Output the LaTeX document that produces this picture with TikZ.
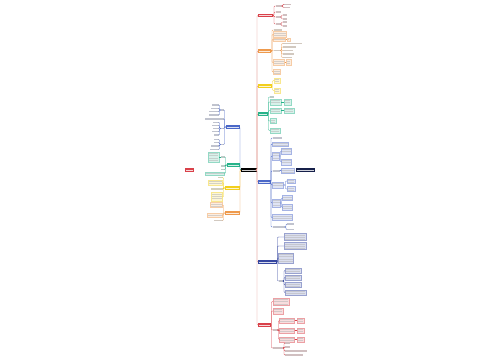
\documentclass[tikz,border=0pt]{standalone}
\definecolor{cRed}{HTML}{D9414A}
\definecolor{cOrange}{HTML}{EE9A4D}
\definecolor{cYellow}{HTML}{F2CF1D}
\definecolor{cGreen}{HTML}{27B38A}
\definecolor{cBlue}{HTML}{4B68C8}
\definecolor{cDark}{HTML}{3445A0}
\definecolor{cNavy}{HTML}{16204A}
\definecolor{cTrunk}{HTML}{E38E82}
\tikzset{
  conn/.style={draw=#1, line width=0.4pt, rounded corners=0.8pt},
  topic/.style={fill=#1, inner sep=0pt, outer sep=0pt, minimum height=3.4pt,
    path picture={\fill[white!80!#1] ([xshift=1pt,yshift=-1.2pt]path picture bounding box.north west) rectangle ([xshift=-1pt,yshift=1.2pt]path picture bounding box.south east);}},
  txtitem/.style={inner sep=0pt, outer sep=0pt, minimum height=1.5pt, fill=#1!25!gray!45},
  boxitem/.style={inner sep=0pt, outer sep=0pt, draw=#1!50, fill=#1!18, line width=0.25pt,
    path picture={\foreach \k in {1,...,6}{\fill[#1!20!gray!40] ([xshift=0.8pt,yshift={-\k*2.4pt+0.5pt}]path picture bounding box.north west) rectangle ([xshift=-0.8pt,yshift={-\k*2.4pt+1.4pt}]path picture bounding box.north east);}}},
}
\newcommand\mkT[6]{\node[txtitem=#6,anchor=#2,minimum width=#5pt] (#1) at (#3,#4) {};}
\newcommand\mkB[7]{\node[boxitem=#7,anchor=#2,minimum width=#5pt,minimum height=#6pt] (#1) at (#3,#4) {};}
\newcommand\joinR[4]{\foreach \ch in {#3}{\draw[conn=#1] (#2.east) -| ([xshift=-#4pt]\ch.west) -- (\ch.west);}}
\newcommand\joinL[4]{\foreach \ch in {#3}{\draw[conn=#1] (#2.west) -| ([xshift=#4pt]\ch.east) -- (\ch.east);}}
\newcommand\sib[3]{\draw[conn=#1] (#2.east) -- (#3.west);}
\begin{document}
\begin{tikzpicture}[x=1pt,y=-1pt]
\useasboundingbox[fill=white] (0,0) rectangle (500,360);
% central and floating nodes
\node[topic=black, minimum width=16pt] (c) at (248.5,170) {};
\node[topic=cRed, minimum width=9pt] (fl) at (189.5,170) {};
\node[topic=cNavy, minimum width=19pt] (fr) at (305.5,170) {};
% right topics
\node[topic=cRed, anchor=west, minimum width=15pt] (r1) at (257.5,15.5) {};
\node[topic=cOrange, anchor=west, minimum width=13pt] (r2) at (257.5,51) {};
\node[topic=cYellow, anchor=west, minimum width=14pt] (r3) at (257.5,86) {};
\node[topic=cGreen, anchor=west, minimum width=10pt] (r4) at (257.5,114) {};
\node[topic=cBlue, anchor=west, minimum width=13pt] (r5) at (257.5,182) {};
\node[topic=cDark, anchor=west, minimum width=19pt] (r6) at (257.5,262) {};
\node[topic=cRed, anchor=west, minimum width=13pt] (r7) at (257.5,325) {};
% left topics
\node[topic=cBlue, anchor=east, minimum width=14pt] (l1) at (239.5,127) {};
\node[topic=cGreen, anchor=east, minimum width=13pt] (l2) at (239.5,165) {};
\node[topic=cYellow, anchor=east, minimum width=15pt] (l3) at (239.5,188) {};
\node[topic=cOrange, anchor=east, minimum width=15pt] (l4) at (239.5,213) {};
% main connectors
\joinL{cBlue}{c}{l1}{0.5}
\joinL{cGreen}{c}{l2}{0.5}
\joinL{cYellow}{c}{l3}{0.5}
\joinL{cOrange}{c}{l4}{0.5}
\joinR{cTrunk}{c}{r2,r3,r4,r5,r6,r1,r7}{0.5}

% ---- r1 red
\mkT{a1}{west}{275.5}{6}{6}{cRed}
\mkT{a2}{west}{275.5}{12}{5}{cRed}
\mkT{a3}{west}{275.5}{17}{5}{cRed}
\mkT{a4}{west}{275.5}{24}{5}{cRed}
\joinR{cRed}{r1}{a1,a2,a3,a4}{1.5}
\mkT{a11}{west}{284}{4.3}{7}{cRed}
\mkT{a12}{west}{284}{7.5}{6}{cRed}
\joinR{cRed}{a1}{a11,a12}{1.2}
\mkT{a31}{west}{282.5}{15}{4}{cRed}
\mkT{a32}{west}{282.5}{19}{4}{cRed}
\joinR{cRed}{a3}{a31,a32}{1}
\mkT{a41}{west}{282.5}{22}{4}{cRed}
\mkT{a42}{west}{282.5}{26}{4}{cRed}
\joinR{cRed}{a4}{a41,a42}{1}

% ---- r2 orange
\mkT{b1}{west}{273.5}{30}{8}{cOrange}
\mkB{b2}{west}{273.5}{34.5}{13}{6}{cOrange}
\mkB{b3}{west}{273.5}{39.5}{12}{3.5}{cOrange}
\mkB{b3x}{west}{287}{39.5}{3}{3.5}{cOrange}
\mkT{b4}{west}{273.5}{50.5}{7}{cOrange}
\mkB{b5}{west}{273.5}{62.5}{11}{6}{cOrange}
\mkB{b5x}{west}{286}{62.5}{5}{6}{cOrange}
\mkB{b6}{west}{273.5}{72}{7}{5}{cOrange}
\joinR{cOrange}{r2}{b1,b2,b3,b4,b5,b6}{1.5}
\sib{cOrange}{b3}{b3x}
\sib{cOrange}{b5}{b5x}
\mkT{b41}{west}{283}{43.5}{19}{cOrange}
\mkT{b42}{west}{283}{47}{13}{cOrange}
\mkT{b43}{west}{283}{50.5}{10}{cOrange}
\mkT{b44}{west}{283}{54}{11}{cOrange}
\mkT{b45}{west}{283}{57.5}{9}{cOrange}
\joinR{cOrange}{b4}{b41,b42,b43,b44,b45}{1.5}

% ---- r3 yellow
\mkB{c1}{west}{274}{80.5}{6}{5}{cYellow}
\mkB{c2}{west}{274}{90.5}{6}{5}{cYellow}
\joinR{cYellow}{r3}{c1,c2}{1.5}

% ---- r4 green
\mkT{d1}{west}{270}{97}{4}{cGreen}
\mkB{d2}{west}{270}{102}{11}{6}{cGreen}
\mkB{d2x}{west}{284}{102}{7}{6}{cGreen}
\mkB{d3}{west}{270}{110.5}{11}{5}{cGreen}
\mkB{d3x}{west}{284}{110.5}{10}{5}{cGreen}
\mkB{d4}{west}{270}{121}{6}{5}{cGreen}
\mkB{d5}{west}{270}{130.5}{10}{5}{cGreen}
\joinR{cGreen}{r4}{d1,d2,d3,d4,d5}{1.5}
\sib{cGreen}{d2}{d2x}
\sib{cGreen}{d3}{d3x}

% ---- r5 blue
\mkT{e1}{west}{272.5}{138}{9}{cBlue}
\mkB{e2}{west}{272.5}{144}{16}{4}{cBlue}
\mkB{e3}{west}{272.5}{156}{7}{8}{cBlue}
\mkT{e4}{west}{272.5}{171}{7}{cBlue}
\mkB{e5}{west}{272.5}{185}{11}{6}{cBlue}
\mkB{e6}{west}{272.5}{203}{8}{8}{cBlue}
\mkB{e7}{west}{272.5}{217.5}{20}{6}{cBlue}
\mkT{e8}{west}{272.5}{227}{12}{cBlue}
\joinR{cBlue}{r5}{e1,e2,e3,e4,e5,e6,e7,e8}{1.5}
\mkB{e31}{west}{281.5}{151}{10}{6}{cBlue}
\mkB{e32}{west}{281.5}{162}{10}{6}{cBlue}
\joinR{cBlue}{e3}{e31,e32}{1}
\mkB{e41}{west}{281.5}{171}{13}{5}{cBlue}
\joinR{cBlue}{e4}{e41}{1}
\mkB{e51}{west}{287}{181}{8}{4}{cBlue}
\mkB{e52}{west}{287}{189}{8}{5}{cBlue}
\joinR{cBlue}{e5}{e51,e52}{1.5}
\mkB{e61}{west}{282.5}{198}{10}{5}{cBlue}
\mkB{e62}{west}{282.5}{207.5}{10}{6}{cBlue}
\joinR{cBlue}{e6}{e61,e62}{1}
\mkT{e81}{west}{287}{224}{7}{cBlue}
\mkT{e82}{west}{287}{229.5}{7}{cBlue}
\joinR{cBlue}{e8}{e81,e82}{1}

% ---- r6 dark blue
\mkB{f1}{west}{284}{237}{22}{7}{cDark}
\mkB{f2}{west}{284}{246}{22}{7}{cDark}
\mkB{f3}{west}{278.5}{258}{15}{10}{cDark}
\mkT{f4}{west}{278.5}{281}{5}{cDark}
\joinR{cDark}{r6}{f1,f2}{6.5}
\joinR{cDark}{r6}{f3,f4}{1}
\mkB{f41}{west}{285}{270.5}{16}{5}{cDark}
\mkB{f42}{west}{285}{277.5}{16}{5}{cDark}
\mkB{f43}{west}{285}{285}{16}{5}{cDark}
\mkB{f44}{west}{285}{292.5}{21}{5}{cDark}
\joinR{cDark}{f4}{f41,f42,f43,f44}{1}

% ---- r7 red
\mkB{g1}{west}{273}{301.5}{16}{7}{cRed}
\mkB{g2}{west}{273}{311}{10}{6}{cRed}
\mkT{g3}{west}{273}{330}{5}{cRed}
\mkT{g4}{west}{273}{348}{10}{cRed}
\joinR{cRed}{r7}{g1,g2,g3,g4}{1.5}
\mkB{g31}{west}{279.5}{320.5}{15}{5}{cRed}
\mkB{g32}{west}{279.5}{330.5}{15}{5}{cRed}
\mkB{g33}{west}{279.5}{339.5}{15}{5}{cRed}
\joinR{cRed}{g3}{g31,g32,g33}{1}
\mkB{g31x}{west}{297}{320.5}{7}{5}{cRed}
\mkB{g32x}{west}{297}{330.5}{7}{5}{cRed}
\mkB{g33x}{west}{297}{339.5}{7}{5}{cRed}
\sib{cRed}{g31}{g31x}
\sib{cRed}{g32}{g32x}
\sib{cRed}{g33}{g33x}
\mkT{g41}{west}{285}{343}{5}{cRed}
\mkT{g42}{west}{285}{347}{5}{cRed}
\mkT{g43}{west}{285}{351}{22}{cRed}
\mkT{g44}{west}{285}{355}{18}{cRed}
\joinR{cRed}{g4}{g41,g42,g43,g44}{1}

% ---- l1 blue (left)
\mkT{A}{east}{223.5}{110}{3}{cBlue}
\mkT{B}{east}{223.5}{119}{19}{cBlue}
\mkT{C}{east}{223.5}{128.5}{3}{cBlue}
\mkT{D}{east}{223.5}{144.5}{3}{cBlue}
\joinL{cBlue}{l1}{A,B,C,D}{1}
\mkT{A1}{east}{218.5}{105}{7}{cBlue}
\mkT{A2}{east}{218.5}{108.3}{8}{cBlue}
\mkT{A3}{east}{218.5}{111.7}{10}{cBlue}
\mkT{A4}{east}{218.5}{115}{10}{cBlue}
\joinL{cBlue}{A}{A1,A2,A3,A4}{1}
\mkT{C1}{east}{218.5}{122.3}{6}{cBlue}
\mkT{C2}{east}{218.5}{125.4}{7}{cBlue}
\mkT{C3}{east}{218.5}{128.5}{6}{cBlue}
\mkT{C4}{east}{218.5}{131.7}{7}{cBlue}
\mkT{C5}{east}{218.5}{135}{5}{cBlue}
\joinL{cBlue}{C}{C1,C2,C3,C4,C5}{1}
\mkT{D1}{east}{218.5}{139.5}{5}{cBlue}
\mkT{D2}{east}{218.5}{142.5}{5}{cBlue}
\mkT{D3}{east}{218.5}{146}{8}{cBlue}
\mkT{D4}{east}{218.5}{149.5}{9}{cBlue}
\joinL{cBlue}{D}{D1,D2,D3,D4}{1}

% ---- l2 green
\mkT{m1}{east}{224.5}{157}{4}{cGreen}
\mkT{m2}{east}{224.5}{166}{4}{cGreen}
\mkT{m3}{east}{224.5}{169.5}{4}{cGreen}
\mkB{m4}{east}{224.5}{173.5}{19}{3.5}{cGreen}
\joinL{cGreen}{l2}{m1,m2,m3,m4}{1}
\mkB{m1x}{east}{219}{157}{11}{10}{cGreen}
\draw[conn=cGreen] (m1.west) -- (m1x.east);

% ---- l3 yellow
\mkT{n1}{east}{222.5}{177.5}{5}{cYellow}
\mkB{n2}{east}{222.5}{182.5}{14}{5}{cYellow}
\mkT{n3}{east}{222.5}{189}{12}{cYellow}
\mkB{n4}{east}{222.5}{197}{11}{9}{cYellow}
\joinL{cYellow}{l3}{n1,n2,n3,n4}{1}

% ---- l4 orange
\mkB{o1}{east}{222.5}{205}{12}{5}{cOrange}
\mkB{o2}{east}{222.5}{215.5}{15}{4}{cOrange}
\mkT{o3}{east}{222.5}{220.5}{9}{cOrange}
\joinL{cOrange}{l4}{o1,o2,o3}{1}
\end{tikzpicture}
\end{document}
